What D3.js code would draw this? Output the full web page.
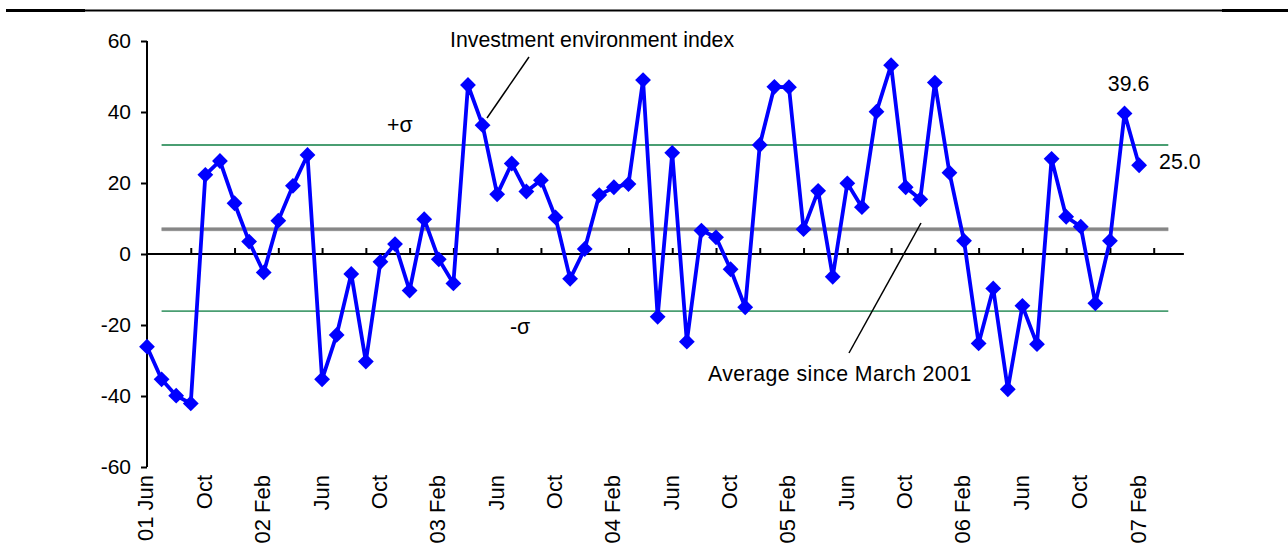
<!DOCTYPE html>
<html>
<head>
<meta charset="utf-8">
<script src="https://cdn.jsdelivr.net/npm/d3@7"></script>
<style>
  body { margin: 0; background: #fff; }
  svg { display: block; font-family: "Liberation Sans", Arial, sans-serif; }
</style>
</head>
<body>
<svg width="1288" height="551"></svg>
<script>
// monthly index, Jun 2001 .. Feb 2007
const values = [-26.1, -35.3, -39.9, -42.1, 22.3, 26.2, 14.3, 3.5, -5.2, 9.4, 19.2, 27.9,
	-35.3, -22.8, -5.6, -30.3, -2.2, 2.8, -10.3, 9.8, -1.5, -8.3, 47.6, 36.3,
	16.8, 25.5, 17.6, 20.8, 10.3, -7.0, 1.4, 16.6, 18.8, 19.7, 49.0, -17.7,
	28.5, -24.7, 6.6, 4.7, -4.3, -15.0, 30.7, 47.1, 47.0, 7.0, 17.8, -6.4,
	19.9, 13.2, 40.1, 53.2, 18.8, 15.4, 48.3, 22.9, 3.7, -25.2, -9.7, -38.1,
	-14.6, -25.4, 26.8, 10.5, 7.7, -13.9, 3.7, 39.6, 25.0];

// x labels, one every 4 months
const tickLabels = ["01 Jun", "Oct", "02 Feb", "Jun", "Oct", "03 Feb", "Jun", "Oct", "04 Feb",
	"Jun", "Oct", "05 Feb", "Jun", "Oct", "06 Feb", "Jun", "Oct", "07 Feb"];

const yTicks = [-60, -40, -20, 0, 20, 40, 60];

const average = 7.0,
	plusSigma = 30.7,
	minusSigma = -16.1,
	refStart = 1,  // month index where the reference lines start
	refEnd = 70,
	nMonths = 72;

const svg = d3.select("svg"),
	width = +svg.attr("width"),
	height = +svg.attr("height");

const x = d3.scaleLinear()
	.domain([0, nMonths - 1])
	.range([147, 147 + (nMonths - 1) * 14.59]);

const y = d3.scaleLinear()
	.domain([-60, 60])
	.range([467, 41]);

svg.append("rect")
	.attr("width", width)
	.attr("height", height)
	.attr("fill", "#fff");

// top rule
svg.append("line")
	.attr("x1", 6).attr("x2", 1288)
	.attr("y1", 10.5).attr("y2", 10.5)
	.attr("stroke", "#000")
	.attr("stroke-width", 2);
svg.append("line")
	.attr("x1", 6).attr("x2", 85)
	.attr("y1", 10.5).attr("y2", 10.5)
	.attr("stroke", "#000")
	.attr("stroke-width", 3.2);
svg.append("line")
	.attr("x1", 1222).attr("x2", 1288)
	.attr("y1", 10.5).attr("y2", 10.5)
	.attr("stroke", "#000")
	.attr("stroke-width", 3.2);

// y axis
const yAxis = svg.append("g")
	.attr("transform", "translate(" + x(0) + ",0)")
	.call(d3.axisLeft(y).tickValues(yTicks).tickSize(6).tickPadding(10)
		.tickFormat(function(d) { return String(d); }));
yAxis.select(".domain").attr("stroke", "#000").attr("stroke-width", 2)
	.attr("d", "M0," + y(60) + "V" + y(-60));
yAxis.selectAll(".tick line").attr("stroke", "#000").attr("stroke-width", 2);
yAxis.selectAll(".tick text")
	.attr("font-size", 21)
	.attr("font-family", "Liberation Sans, Arial, sans-serif")
	.attr("fill", "#000");

// reference lines
const refLine = function(v, color, w) {
	svg.append("line")
		.attr("x1", x(refStart)).attr("x2", x(refEnd))
		.attr("y1", y(v)).attr("y2", y(v))
		.attr("stroke", color)
		.attr("stroke-width", w);
};
refLine(plusSigma, "#4a9e72", 1.8);
refLine(minusSigma, "#4a9e72", 1.8);
refLine(average, "#c8c8c8", 4.2);
refLine(average, "#868686", 3);

// zero axis with ticks every 3 months
const xTicks = d3.range(3, nMonths, 3);
const xAxis = svg.append("g")
	.attr("transform", "translate(0," + y(0) + ")")
	.call(d3.axisTop(x).tickValues(xTicks).tickSize(6).tickFormat(""));
xAxis.select(".domain").attr("stroke", "#000").attr("stroke-width", 2)
	.attr("d", "M" + x(0) + ",0H" + (x(nMonths - 1) + 1));
xAxis.selectAll(".tick line").attr("stroke", "#000").attr("stroke-width", 2);

// rotated month labels
svg.append("g")
	.selectAll("text")
	.data(tickLabels)
	.enter()
	.append("text")
	.attr("transform", function(d, i) {
		return "translate(" + (x(i * 4) - 1.5) + ",475) rotate(-90)";
	})
	.attr("text-anchor", "end")
	.attr("dy", "0.36em")
	.attr("font-size", 22)
	.text(function(d) { return d; });

// series
const line = d3.line()
	.x(function(d, i) { return x(i); })
	.y(function(d) { return y(d); });

svg.append("path")
	.datum(values)
	.attr("d", line)
	.attr("fill", "none")
	.attr("stroke", "#0000ff")
	.attr("stroke-width", 3.8)
	.attr("stroke-linejoin", "round");

svg.append("g")
	.selectAll("path")
	.data(values)
	.enter()
	.append("path")
	.attr("d", d3.symbol().type(d3.symbolSquare).size(125))
	.attr("transform", function(d, i) {
		return "translate(" + x(i) + "," + y(d) + ") rotate(45)";
	})
	.attr("fill", "#0000ff");

// annotations
const note = function(txt, px, py, anchor, spacing) {
	svg.append("text")
		.attr("x", px).attr("y", py)
		.attr("text-anchor", anchor || "start")
		.attr("font-size", 21.3)
		.attr("letter-spacing", spacing || 0)
		.text(txt);
};
const leader = function(x1, y1, x2, y2) {
	svg.append("line")
		.attr("x1", x1).attr("y1", y1)
		.attr("x2", x2).attr("y2", y2)
		.attr("stroke", "#000")
		.attr("stroke-width", 1.5);
};

note("Investment environment index", 450, 47);
leader(529, 57, 487, 118);
note("+σ", 387, 132);
note("-σ", 510, 334);
note("Average since March 2001", 708, 381, "start", 0.45);
leader(921, 223, 849, 353);

const last = values.length - 1;
note(values[last - 1].toFixed(1), x(last - 1) + 4, y(values[last - 1]) - 22, "middle");
note(values[last].toFixed(1), x(last) + 20, y(values[last]) + 4);
</script>
</body>
</html>
